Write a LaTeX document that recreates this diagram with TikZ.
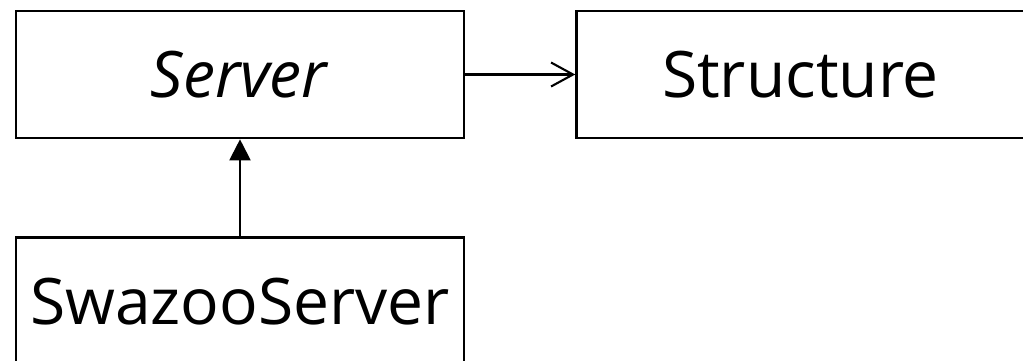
\documentclass[tikz,border=0pt]{standalone}
\usepackage{fontspec}
\setmainfont{Open Sans}
\usetikzlibrary{positioning,arrows.meta}

\begin{document}
\begin{tikzpicture}[x=0.02cm,y=-0.02cm,
	class/.style={draw,line width=1.5pt,minimum width=8.96cm,minimum height=2.54cm,inner sep=0pt,font=\fontsize{36.5}{40}\selectfont},
	assoc/.style={line width=1.2pt,-{Straight Barb[length=0.44cm,width=0.48cm,line width=1.2pt]}},
	inherit/.style={line width=1.2pt,-{Triangle[length=0.42cm,width=0.42cm]}}]
	\useasboundingbox (0,0) rectangle (1023,360);
	\clip (0,0) rectangle (1023,360);
	\node[class] (server) at (240,74.5) {\textit{Server}};
	\node[class] (structure) [right=2.2cm of server] {Structure};
	\node[class] (swazoo) [below=1.94cm of server] {SwazooServer};

	\draw[assoc] (server) -- (structure);
	\draw[inherit] (swazoo) -- (server);
\end{tikzpicture}
\end{document}
